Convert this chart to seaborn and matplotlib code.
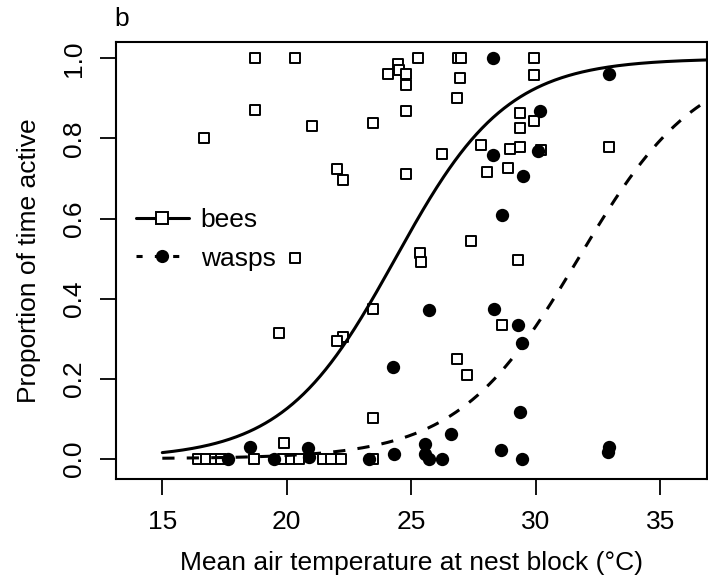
import numpy as np
import pandas as pd
import matplotlib
matplotlib.use("Agg")
import matplotlib.pyplot as plt
import seaborn as sns
from matplotlib.lines import Line2D

# ---- data ----
bees_x = [18.74, 20.35, 25.26, 26.87, 27.0, 29.95,
          24.08, 24.46, 24.5, 24.8, 24.8, 29.95, 26.94, 26.84,
          18.74, 24.8, 29.35, 29.95, 21.0, 23.48, 29.35, 16.69, 27.81, 32.93,
          29.35, 28.95, 30.2, 26.24, 28.9, 22.02, 28.05, 24.8, 22.25,
          27.4, 25.36, 25.4, 20.35, 29.3,
          23.48, 28.65, 19.7, 22.25, 22.02, 26.84, 27.24,
          23.48, 19.88,
          16.43, 16.76, 17.1, 17.37, 18.7, 19.84, 20.18, 20.51, 21.45, 21.78, 22.18, 23.48]
bees_y = [1.0, 1.0, 1.0, 1.0, 1.0, 1.0,
          0.962, 0.986, 0.97, 0.962, 0.934, 0.958, 0.95, 0.90,
          0.871, 0.869, 0.863, 0.8425, 0.832, 0.838, 0.825, 0.801, 0.784, 0.78,
          0.779, 0.7735, 0.771, 0.7625, 0.726, 0.723, 0.7175, 0.711, 0.697,
          0.544, 0.515, 0.4925, 0.502, 0.4975,
          0.3735, 0.3335, 0.3135, 0.304, 0.294, 0.2485, 0.2085,
          0.101, 0.04,
          0.0, 0.0, 0.0, 0.0, 0.0, 0.0, 0.0, 0.0, 0.0, 0.0, 0.0, 0.0]

wasps_x = [28.3, 32.93, 30.19, 30.08, 28.3, 29.5, 28.65, 25.7, 28.34, 29.3,
           29.45, 24.26, 29.35, 26.6, 25.57, 25.55, 25.73, 26.24, 28.6, 29.45,
           32.93, 32.89, 24.29, 23.3, 18.54, 20.86, 20.9, 17.63, 19.5]
wasps_y = [1.0, 0.961, 0.869, 0.769, 0.758, 0.707, 0.6085, 0.372, 0.375, 0.3335,
           0.2885, 0.23, 0.1175, 0.061, 0.0375, 0.011, 0.0, 0.0, 0.022, 0.0,
           0.029, 0.017, 0.011, 0.0, 0.03, 0.0275, 0.004, 0.0, 0.0]

# fitted logistic models (slope, midpoint temperature)
bees_fit = (0.4466, 24.36)
wasps_fit = (0.413, 31.71)
curve_range = (15, 37)

x_ticks = [15, 20, 25, 30, 35]
y_ticks = [0.0, 0.2, 0.4, 0.6, 0.8, 1.0]
y_ticklabels = ["0.0", "0.2", "0.4", "0.6", "0.8", "1.0"]

# ---- plotting ----
sns.set_style("white")
plt.rcParams["font.family"] = ["Liberation Sans", "DejaVu Sans"]
plt.rcParams["font.size"] = 19
plt.rcParams["text.color"] = "black"
plt.rcParams["axes.labelcolor"] = "black"
plt.rcParams["xtick.color"] = "black"
plt.rcParams["ytick.color"] = "black"

FS = 19
W, H = 708, 586
fig = plt.figure(figsize=(W / 100, H / 100), dpi=100)
ax = fig.add_axes([115.5 / W, 1 - 478.8 / H, (707 - 115.5) / W, (478.8 - 42.3) / H])

bees = pd.DataFrame({"temp": bees_x, "prop": bees_y})
wasps = pd.DataFrame({"temp": wasps_x, "prop": wasps_y})

sns.scatterplot(data=bees, x="temp", y="prop", marker="s", s=56,
                facecolor="white", edgecolor="black", linewidth=1.4, ax=ax, zorder=3)
sns.scatterplot(data=wasps, x="temp", y="prop", marker="o", s=92,
                color="black", edgecolor="black", linewidth=0, ax=ax, zorder=4)

xg = np.linspace(curve_range[0], curve_range[1], 400)
curves = pd.DataFrame({
    "temp": np.concatenate([xg, xg]),
    "prop": np.concatenate([1 / (1 + np.exp(-bees_fit[0] * (xg - bees_fit[1]))),
                            1 / (1 + np.exp(-wasps_fit[0] * (xg - wasps_fit[1])))]),
    "group": ["bees"] * len(xg) + ["wasps"] * len(xg),
})
sns.lineplot(data=curves[curves.group == "bees"], x="temp", y="prop",
             color="black", lw=2.2, ax=ax, zorder=5)
sns.lineplot(data=curves[curves.group == "wasps"], x="temp", y="prop",
             color="black", lw=2.2, ax=ax, zorder=5, linestyle=(0, (4, 4)))

ax.set_xlim(13.12, 36.88)
ax.set_ylim(-0.0504, 1.0404)
ax.set_xticks(x_ticks)
ax.set_yticks(y_ticks)
ax.set_yticklabels(y_ticklabels, rotation=90, va="center")
ax.tick_params(axis="both", direction="out", length=11.5, width=1.3,
               color="black", labelcolor="black", labelsize=FS, bottom=True, left=True)
ax.tick_params(axis="x", pad=11)
ax.tick_params(axis="y", pad=10)
for sp in ax.spines.values():
    sp.set_visible(True)
    sp.set_color("black")
    sp.set_linewidth(1.5)

ax.set_xlabel("Mean air temperature at nest block (°C)", fontsize=FS, labelpad=12, color="black")
ax.set_ylabel("Proportion of time active", fontsize=FS, labelpad=15, color="black")

handles = [
    Line2D([], [], color="black", lw=2.2, marker="s", markersize=8,
           markerfacecolor="white", markeredgecolor="black", markeredgewidth=1.4),
    Line2D([], [], color="black", lw=2.2, linestyle=(0, (2, 4)), marker="o",
           markersize=9.5, markerfacecolor="black", markeredgewidth=0),
]
leg = ax.legend(handles, ["bees", "wasps"], loc="upper left",
                bbox_to_anchor=(136 / W, 1 - 208 / H), bbox_transform=fig.transFigure,
                frameon=False, fontsize=FS, handlelength=2.0, handletextpad=0.45,
                labelspacing=0.55, borderpad=0, borderaxespad=0)
for t in leg.get_texts():
    t.set_color("black")

fig.text(122 / W, 1 - 19 / H, "b", fontsize=FS, ha="center", va="center", color="black")

fig.savefig("out.png", dpi=100)
